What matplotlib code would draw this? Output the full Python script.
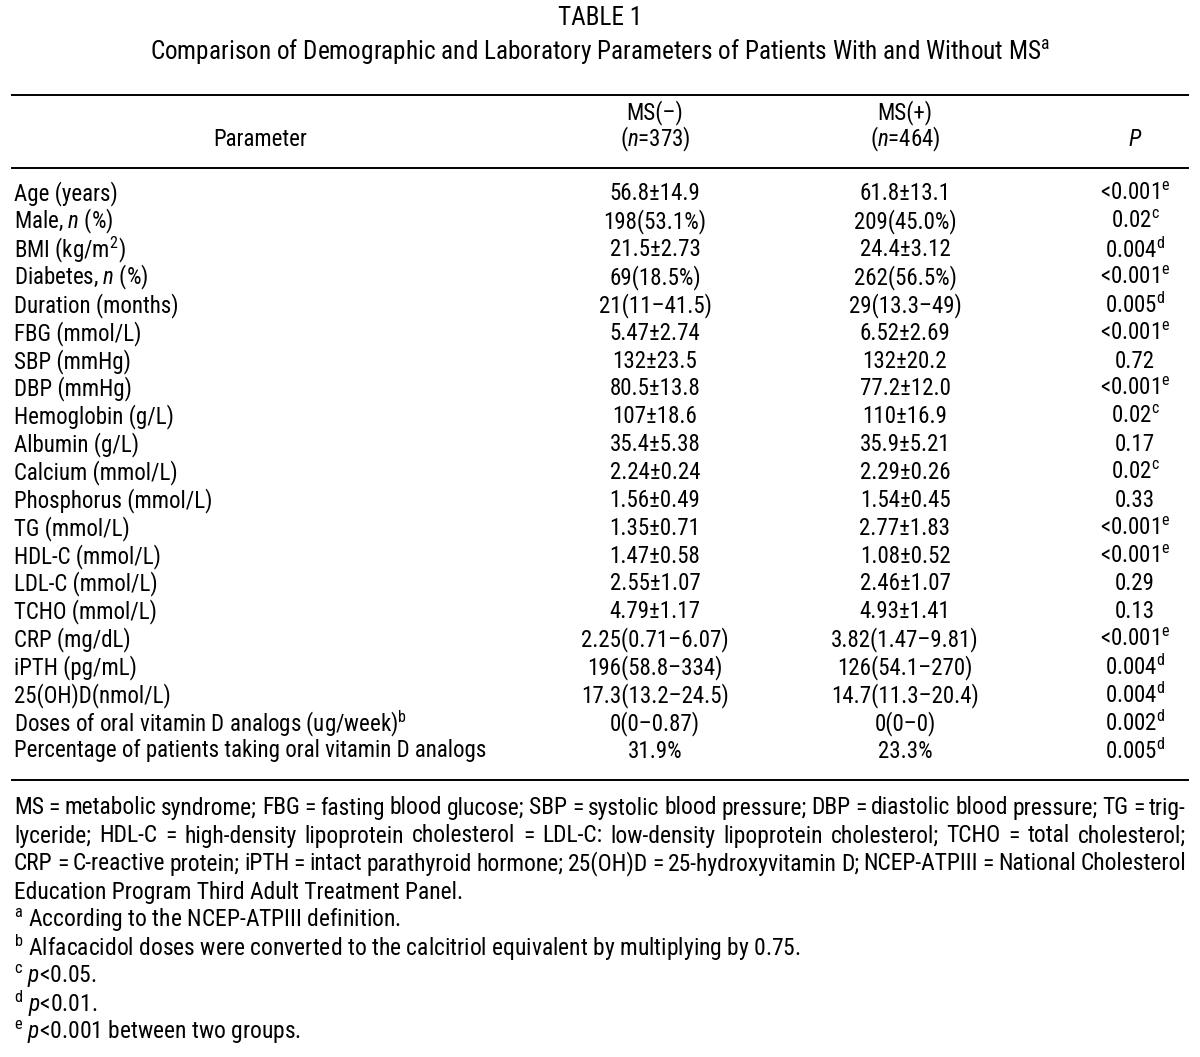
import matplotlib
matplotlib.use("Agg")
from matplotlib import pyplot as plt
from matplotlib import font_manager

# pick a narrow sans if one is installed, else Liberation Sans
names = {f.name for f in font_manager.fontManager.ttflist}
narrow = sorted(n for n in names if ("Narrow" in n or "Condensed" in n) and "CJK" not in n)
fam = None
for cand in ["Liberation Sans Narrow", "Roboto Condensed", "Open Sans Condensed",
             "Noto Sans Condensed", "DejaVu Sans Condensed"] + narrow + ["Liberation Sans"]:
    if cand in names:
        fam = cand
        break
if fam is None:
    fam = "DejaVu Sans"

plt.rcParams.update({
    "font.family": [fam, "DejaVu Sans"],
    "mathtext.fontset": "custom",
    "mathtext.rm": fam,
    "mathtext.it": fam + ":italic",
    "mathtext.bf": fam + ":bold",
})

title = "TABLE 1"
subtitle = r"Comparison of Demographic and Laboratory Parameters of Patients With and Without MS$^{\mathrm{a}}$"
col_heads = ["MS(–)", "MS(+)"]
col_n = [r"($\mathit{n}$=373)", r"($\mathit{n}$=464)"]

params = [
    "Age (years)", r"Male, $\mathit{n}$ (%)", r"BMI (kg/m$^{2}$)", r"Diabetes, $\mathit{n}$ (%)",
    "Duration (months)", "FBG (mmol/L)", "SBP (mmHg)", "DBP (mmHg)", "Hemoglobin (g/L)",
    "Albumin (g/L)", "Calcium (mmol/L)", "Phosphorus (mmol/L)", "TG (mmol/L)",
    "HDL-C (mmol/L)", "LDL-C (mmol/L)", "TCHO (mmol/L)", "CRP (mg/dL)", "iPTH (pg/mL)",
    "25(OH)D(nmol/L)", r"Doses of oral vitamin D analogs (ug/week)$^{\mathrm{b}}$",
    "Percentage of patients taking oral vitamin D analogs",
]
ms_neg = ["56.8±14.9", "198(53.1%)", "21.5±2.73", "69(18.5%)", "21(11–41.5)", "5.47±2.74",
          "132±23.5", "80.5±13.8", "107±18.6", "35.4±5.38", "2.24±0.24", "1.56±0.49",
          "1.35±0.71", "1.47±0.58", "2.55±1.07", "4.79±1.17", "2.25(0.71–6.07)",
          "196(58.8–334)", "17.3(13.2–24.5)", "0(0–0.87)", "31.9%"]
ms_pos = ["61.8±13.1", "209(45.0%)", "24.4±3.12", "262(56.5%)", "29(13.3–49)", "6.52±2.69",
          "132±20.2", "77.2±12.0", "110±16.9", "35.9±5.21", "2.29±0.26", "1.54±0.45",
          "2.77±1.83", "1.08±0.52", "2.46±1.07", "4.93±1.41", "3.82(1.47–9.81)",
          "126(54.1–270)", "14.7(11.3–20.4)", "0(0–0)", "23.3%"]
p_vals = ["<0.001", "0.02", "0.004", "<0.001", "0.005", "<0.001", "0.72", "<0.001", "0.02",
          "0.17", "0.02", "0.33", "<0.001", "<0.001", "0.29", "0.13", "<0.001", "0.004",
          "0.004", "0.002", "0.005"]
p_sup = ["e", "c", "d", "e", "d", "e", "", "e", "c", "", "c", "", "e", "e", "", "", "e",
         "d", "d", "d", "d"]

abbrev = [
    "MS = metabolic syndrome; FBG = fasting blood glucose; SBP = systolic blood pressure; DBP = diastolic blood pressure; TG = trig-",
    "lyceride; HDL-C = high-density lipoprotein cholesterol = LDL-C: low-density lipoprotein cholesterol; TCHO = total cholesterol;",
    "CRP = C-reactive protein; iPTH = intact parathyroid hormone; 25(OH)D = 25-hydroxyvitamin D; NCEP-ATPIII = National Cholesterol",
    "Education Program Third Adult Treatment Panel.",
]
notes = [
    r"$^{\mathrm{a}}$ According to the NCEP-ATPIII definition.",
    r"$^{\mathrm{b}}$ Alfacacidol doses were converted to the calcitriol equivalent by multiplying by 0.75.",
    r"$^{\mathrm{c}}$ $\mathit{p}$<0.05.",
    r"$^{\mathrm{d}}$ $\mathit{p}$<0.01.",
    r"$^{\mathrm{e}}$ $\mathit{p}$<0.001 between two groups.",
]

W, H = 1200, 1057
fig = plt.figure(figsize=(W / 100, H / 100), dpi=100)
ax = fig.add_axes([0, 0, 1, 1])
ax.set_xlim(0, W)
ax.set_ylim(H, 0)
ax.axis("off")
renderer = fig.canvas.get_renderer()


def text_width(t):
    return t.get_window_extent(renderer=renderer).width


# scale font so the longest parameter label spans the same width as in the reference
probe = ax.text(0, 0, params[-1], fontsize=10)
fs = min(16.5, 10 * 481 / text_width(probe))
probe.remove()
fs_title = fs * 1.1
fs_note = fs * 1.025

x_left, x_right = 14, 1186
x_neg, x_pos, x_p = 655, 905, 1135

ax.text(600, 18, title, ha="center", va="center", fontsize=fs_title)
ax.text(600, 52, subtitle, ha="center", va="center", fontsize=fs_title)

for y in [95, 168, 780]:
    ax.plot([12, 1188], [y, y], color="black", lw=1.4)

ax.text(260, 139, "Parameter", ha="center", va="center", fontsize=fs)
for x, h, n in zip([x_neg, x_pos], col_heads, col_n):
    ax.text(x, 113, h, ha="center", va="center", fontsize=fs)
    ax.text(x, 139, n, ha="center", va="center", fontsize=fs)
ax.text(x_p, 139, r"$\mathit{P}$", ha="center", va="center", fontsize=fs)

y0, dy = 194, 27.85
for i, (pr, a, b, p, s) in enumerate(zip(params, ms_neg, ms_pos, p_vals, p_sup)):
    y = y0 + i * dy
    ax.text(x_left, y, pr, ha="left", va="center", fontsize=fs)
    ax.text(x_neg, y, a, ha="center", va="center", fontsize=fs)
    ax.text(x_pos, y, b, ha="center", va="center", fontsize=fs)
    lab = p + (r"$^{\mathrm{%s}}$" % s if s else "")
    ax.text(x_p, y, lab, ha="center", va="center", fontsize=fs)

# justified abbreviation paragraph
fy, fdy = 808, 28
for j, line in enumerate(abbrev):
    y = fy + j * fdy
    if j == len(abbrev) - 1:
        ax.text(x_left, y, line, ha="left", va="center", fontsize=fs_note)
        continue
    words = line.split(" ")
    arts = [ax.text(0, y, w, ha="left", va="center", fontsize=fs_note) for w in words]
    widths = [text_width(t) for t in arts]
    gap = (x_right - x_left - sum(widths)) / (len(words) - 1)
    x = x_left
    for t, w in zip(arts, widths):
        t.set_x(x)
        x += w + gap

for k, note in enumerate(notes):
    y = fy + (len(abbrev) + k) * fdy
    ax.text(x_left, y, note, ha="left", va="center", fontsize=fs_note)

fig.savefig("out.png", dpi=100)
